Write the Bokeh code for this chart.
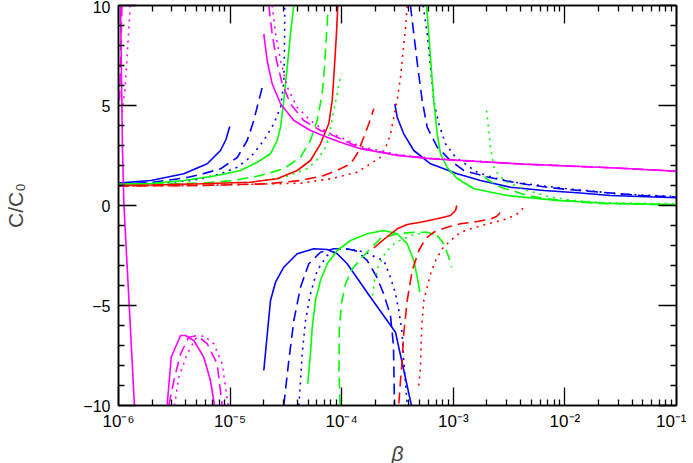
import numpy as np
from bokeh.plotting import figure
from bokeh.models import LogAxis, LinearAxis, FixedTicker, Range1d
from bokeh.embed import file_html
from bokeh.resources import INLINE

# ---- axis ticks -------------------------------------------------------
x_ticks = [1e-6, 1e-5, 1e-4, 1e-3, 1e-2, 1e-1]
x_tick_labels = ["10⁻⁶", "10⁻⁵", "10⁻⁴", "10⁻³", "10⁻²", "10⁻¹"]
x_minor = [m * 10.0 ** k for k in range(-6, -1) for m in range(2, 10)]
y_ticks = [-10, -5, 0, 5, 10]
y_tick_labels = ["−10", "−5", "0", "5", "10"]
y_minor = [v for v in range(-9, 10) if v % 5 != 0]

# ---- data: log10(beta) and C/C0 for every branch ----------------------
blue_solid_1_lb = [-6.0, -5.71, -5.415, -5.205, -5.086, -5.037, -5.003]
blue_solid_1_c = [1.12, 1.25, 1.585, 2.085, 2.75, 3.3, 3.95]
blue_solid_2_lb = [-4.698, -4.638, -4.593, -4.519, -4.399, -4.25, -4.13, -4.04, -3.951, -3.742, -3.518, -3.375]
blue_solid_2_c = [-8.25, -4.75, -3.835, -3.085, -2.415, -2.165, -2.2, -2.415, -2.915, -4.585, -6.335, -10.0]
blue_solid_3_lb = [-3.524, -3.503, -3.444, -3.354, -3.204, -2.965, -2.756, -2.487, -2.189, -1.89, -1.591, -1.0]
blue_solid_3_c = [5.085, 4.415, 3.585, 2.75, 2.085, 1.585, 1.25, 0.915, 0.75, 0.635, 0.5, 0.385]

blue_dashed_1_lb = [-6.0, -5.713, -5.384, -5.265, -5.086, -4.936, -4.847, -4.788, -4.743, -4.703]
blue_dashed_1_c = [1.075, 1.15, 1.4, 1.55, 1.835, 2.4, 3.25, 4.25, 5.25, 6.085]
blue_dashed_2_lb = [-4.519, -4.474, -4.429, -4.369, -4.295, -4.19, -4.071, -3.951, -3.861, -3.772, -3.688, -3.625, -3.563, -3.536, -3.527]
blue_dashed_2_c = [-10, -7.75, -5.75, -4.085, -2.915, -2.335, -2.165, -2.165, -2.285, -2.75, -3.55, -4.4, -5.5, -7.0, -10]
blue_dashed_3_lb = [-3.384, -3.354, -3.318, -3.279, -3.234, -3.144, -3.025, -2.906, -2.711, -2.547, -2.338, -2.159, -1.95, -1.681, -1.323, -1.0]
blue_dashed_3_c = [10, 8.585, 6.915, 5.25, 3.915, 2.915, 2.25, 1.75, 1.45, 1.25, 1.05, 0.915, 0.785, 0.665, 0.5, 0.425]

blue_dotted_1_lb = [-6.0, -5.624, -5.355, -5.265, -5.086, -4.936, -4.817, -4.698, -4.608, -4.548, -4.519, -4.513, -4.51]
blue_dotted_1_c = [1.05, 1.125, 1.25, 1.335, 1.585, 1.915, 2.415, 3.25, 4.085, 4.915, 6.1, 7.75, 10.0]
blue_dotted_2_lb = [-4.384, -4.369, -4.354, -4.324, -4.28, -4.22, -4.13, -4.011, -3.892, -3.787, -3.697, -3.623, -3.563, -3.518, -3.488, -3.458, -3.444, -3.428, -3.413]
blue_dotted_2_c = [-10, -8.75, -7.415, -5.75, -4.415, -3.25, -2.5, -2.165, -2.215, -2.335, -2.585, -2.75, -3.585, -4.415, -5.25, -6.415, -7.75, -8.915, -9.9]
blue_dotted_3_lb = [-3.27, -3.234, -3.204, -3.175, -3.13, -3.07, -2.98, -2.861, -2.786, -2.637, -2.458, -2.219, -1.979, -1.741, -1.591, -1.323, -1.0]
blue_dotted_3_c = [10, 8.585, 6.915, 5.25, 4.085, 3.085, 2.415, 1.95, 1.665, 1.385, 1.165, 1.0, 0.835, 0.715, 0.615, 0.525, 0.45]

green_solid_1_lb = [-6.0, -5.713, -5.415, -5.116, -4.907, -4.757, -4.638, -4.578, -4.548, -4.519, -4.488, -4.459, -4.429]
green_solid_1_c = [1.075, 1.1, 1.25, 1.5, 1.75, 2.165, 2.585, 3.25, 3.915, 5.25, 6.915, 8.585, 10]
green_solid_2_lb = [-4.304, -4.28, -4.264, -4.235, -4.19, -4.13, -4.04, -3.921, -3.772, -3.623, -3.503, -3.413, -3.354, -3.323, -3.3]
green_solid_2_c = [-8.915, -7.415, -6.085, -4.75, -3.75, -2.915, -2.25, -1.75, -1.415, -1.25, -1.415, -1.915, -2.75, -3.585, -4.335]
green_solid_3_lb = [-3.24, -3.22, -3.198, -3.175, -3.144, -3.115, -3.055, -2.965, -2.816, -2.517, -2.069, -1.621, -1.0]
green_solid_3_c = [10, 8.585, 6.915, 5.25, 3.585, 2.585, 1.9, 1.35, 0.835, 0.5, 0.25, 0.115, 0.035]

green_dashed_1_lb = [-6.0, -5.265, -4.967, -4.728, -4.519, -4.369, -4.28, -4.22, -4.175, -4.154, -4.136, -4.125]
green_dashed_1_c = [1.05, 1.115, 1.25, 1.5, 1.835, 2.415, 3.25, 4.25, 5.585, 6.915, 8.585, 9.585]
green_dashed_2_lb = [-4.015, -4.024, -4.022, -4.002, -3.966, -3.903, -3.814, -3.733, -3.652, -3.503, -3.354, -3.234, -3.144, -3.085, -3.04, -3.016]
green_dashed_2_c = [-10, -8.25, -6.25, -4.9, -3.915, -3.15, -2.585, -2.1, -1.65, -1.415, -1.335, -1.335, -1.5, -1.915, -2.585, -3.085]
green_dashed_3_lb = [-2.72, -2.694, -2.622, -2.547, -2.458, -2.368, -2.189, -2.01, -1.831, -1.681, -1.323, -1.0]
green_dashed_3_c = [1.45, 1.3, 1.05, 0.85, 0.725, 0.55, 0.35, 0.25, 0.165, 0.1, 0.06, 0.035]

green_dotted_1_lb = [-6.0, -5.265, -4.817, -4.519, -4.309, -4.208, -4.136, -4.1, -4.071, -4.04, -4.017, -3.996]
green_dotted_1_c = [1.025, 1.085, 1.165, 1.415, 1.835, 2.35, 3.0, 3.85, 4.75, 5.585, 6.25, 6.585]
green_dotted_2_lb = [-3.724, -3.706, -3.67, -3.608, -3.518, -3.384, -3.249, -3.159, -3.106, -3.07]
green_dotted_2_c = [-4.5, -3.75, -3.0, -2.35, -1.85, -1.5, -1.35, -1.45, -1.75, -2.1]
green_dotted_3_lb = [-2.703, -2.682, -2.667, -2.637, -2.592, -2.517, -2.338, -2.129, -1.92, -1.621, -1.0]
green_dotted_3_c = [4.75, 3.75, 2.915, 1.915, 1.5, 1.165, 0.75, 0.415, 0.25, 0.135, 0.085]

red_solid_1_lb = [-6.0, -5.713, -5.265, -4.817, -4.578, -4.399, -4.28, -4.19, -4.116, -4.085, -4.065, -4.047, -4.035]
red_solid_1_c = [1.0, 1.025, 1.085, 1.165, 1.335, 1.75, 2.25, 3.085, 4.085, 5.25, 6.915, 8.585, 10]
red_solid_2_lb = [-3.712, -3.652, -3.578, -3.503, -3.413, -3.294, -3.144, -3.025, -2.98, -2.969]
red_solid_2_c = [-2.125, -1.835, -1.5, -1.165, -0.95, -0.835, -0.665, -0.5, -0.25, 0.0]

red_dashed_1_lb = [-6.0, -5.265, -4.668, -4.369, -4.16, -4.011, -3.921, -3.861, -3.802, -3.757, -3.712]
red_dashed_1_c = [0.975, 1.0, 1.085, 1.25, 1.5, 1.835, 2.085, 2.585, 3.415, 4.085, 4.835]
red_dashed_2_lb = [-3.488, -3.473, -3.458, -3.444, -3.413, -3.368, -3.309, -3.249, -3.175, -3.055, -2.935, -2.786, -2.667, -2.613, -2.586, -2.577]
red_dashed_2_c = [-9.9, -8.75, -7.75, -6.415, -4.75, -3.25, -2.25, -1.665, -1.335, -1.085, -0.915, -0.8, -0.675, -0.55, -0.4, -0.25]

red_dotted_1_lb = [-6.0, -5.265, -4.369, -4.1, -3.981, -3.861, -3.742, -3.652, -3.592, -3.563, -3.533, -3.503, -3.473, -3.449, -3.428, -3.413]
red_dotted_1_c = [0.975, 1.0, 1.115, 1.335, 1.5, 1.665, 2.085, 2.415, 3.085, 3.585, 4.415, 5.25, 6.415, 7.75, 8.915, 10]
red_dotted_2_lb = [-3.309, -3.294, -3.288, -3.279, -3.264, -3.234, -3.204, -3.159, -3.099, -3.025, -2.935, -2.846, -2.727, -2.637, -2.517, -2.427, -2.368]
red_dotted_2_c = [-9.0, -8.085, -6.75, -5.75, -4.75, -4.085, -3.415, -2.75, -2.165, -1.75, -1.335, -1.165, -0.975, -0.835, -0.665, -0.415, -0.1]

magenta_solid_0_lb = [-5.982, -5.964, -5.951, -5.857]
magenta_solid_0_c = [10, 2.75, 0, -10]
magenta_solid_1_lb = [-5.564, -5.528, -5.444, -5.4, -5.325, -5.236, -5.176, -5.14]
magenta_solid_1_c = [-10, -7.585, -6.5, -6.5, -6.75, -7.585, -8.75, -10]
magenta_solid_2_lb = [-4.698, -4.668, -4.623, -4.548, -4.429, -4.28, -4.13, -4.011, -3.832, -3.503, -3.204, -2.935, -2.398, -1.591, -1.0]
magenta_solid_2_c = [8.585, 7.25, 6.085, 5.085, 4.25, 3.75, 3.415, 3.165, 2.835, 2.5, 2.335, 2.25, 2.075, 1.885, 1.715]

magenta_dashed_0_lb = [-5.969, -5.979, -5.991]
magenta_dashed_0_c = [10, 7.75, 5.25]
magenta_dashed_1_lb = [-5.549, -5.504, -5.444, -5.37, -5.295, -5.205, -5.116, -5.071]
magenta_dashed_1_c = [-10, -8.75, -7.415, -6.585, -6.5, -6.915, -7.915, -10]
magenta_dashed_2_lb = [-4.653, -4.623, -4.584, -4.533, -4.459, -4.34, -4.19, -4.04, -3.832, -3.503, -3.204, -2.935, -2.398, -1.591, -1.0]
magenta_dashed_2_c = [10, 8.585, 7.25, 6.085, 5.085, 4.25, 3.75, 3.415, 2.875, 2.525, 2.35, 2.25, 2.075, 1.885, 1.715]

magenta_dotted_0_lb = [-5.895, -5.91, -5.926, -5.94, -5.955, -5.967]
magenta_dotted_0_c = [10, 8.6, 7.25, 5.9, 5.25, 4.65]
magenta_dotted_1_lb = [-5.498, -5.46, -5.384, -5.31, -5.236, -5.146, -5.071, -5.017]
magenta_dotted_1_c = [-10, -8.585, -7.415, -6.665, -6.5, -6.915, -7.915, -10]
magenta_dotted_2_lb = [-4.623, -4.593, -4.548, -4.488, -4.399, -4.28, -4.13, -4.011, -3.832, -3.503, -3.204, -2.935, -2.398, -1.591, -1.0]
magenta_dotted_2_c = [10, 8.6, 7.25, 5.915, 4.915, 4.25, 3.665, 3.415, 2.95, 2.55, 2.365, 2.265, 2.085, 1.89, 1.72]

BLUE, GREEN, RED, MAGENTA = "#0000ff", "#00ff00", "#ff0000", "#ff00ff"
DASHES = {"solid": "solid", "dashed": "11 6", "dotted": "2 5"}

series = [
    (blue_solid_1_lb, blue_solid_1_c, BLUE, "solid"),
    (blue_solid_2_lb, blue_solid_2_c, BLUE, "solid"),
    (blue_solid_3_lb, blue_solid_3_c, BLUE, "solid"),
    (blue_dashed_1_lb, blue_dashed_1_c, BLUE, "dashed"),
    (blue_dashed_2_lb, blue_dashed_2_c, BLUE, "dashed"),
    (blue_dashed_3_lb, blue_dashed_3_c, BLUE, "dashed"),
    (blue_dotted_1_lb, blue_dotted_1_c, BLUE, "dotted"),
    (blue_dotted_2_lb, blue_dotted_2_c, BLUE, "dotted"),
    (blue_dotted_3_lb, blue_dotted_3_c, BLUE, "dotted"),
    (green_solid_1_lb, green_solid_1_c, GREEN, "solid"),
    (green_solid_2_lb, green_solid_2_c, GREEN, "solid"),
    (green_solid_3_lb, green_solid_3_c, GREEN, "solid"),
    (green_dashed_1_lb, green_dashed_1_c, GREEN, "dashed"),
    (green_dashed_2_lb, green_dashed_2_c, GREEN, "dashed"),
    (green_dashed_3_lb, green_dashed_3_c, GREEN, "dashed"),
    (green_dotted_1_lb, green_dotted_1_c, GREEN, "dotted"),
    (green_dotted_2_lb, green_dotted_2_c, GREEN, "dotted"),
    (green_dotted_3_lb, green_dotted_3_c, GREEN, "dotted"),
    (red_solid_1_lb, red_solid_1_c, RED, "solid"),
    (red_solid_2_lb, red_solid_2_c, RED, "solid"),
    (red_dashed_1_lb, red_dashed_1_c, RED, "dashed"),
    (red_dashed_2_lb, red_dashed_2_c, RED, "dashed"),
    (red_dotted_1_lb, red_dotted_1_c, RED, "dotted"),
    (red_dotted_2_lb, red_dotted_2_c, RED, "dotted"),
    (magenta_solid_0_lb, magenta_solid_0_c, MAGENTA, "solid"),
    (magenta_solid_1_lb, magenta_solid_1_c, MAGENTA, "solid"),
    (magenta_solid_2_lb, magenta_solid_2_c, MAGENTA, "solid"),
    (magenta_dashed_0_lb, magenta_dashed_0_c, MAGENTA, "dashed"),
    (magenta_dashed_1_lb, magenta_dashed_1_c, MAGENTA, "dashed"),
    (magenta_dashed_2_lb, magenta_dashed_2_c, MAGENTA, "dashed"),
    (magenta_dotted_0_lb, magenta_dotted_0_c, MAGENTA, "dotted"),
    (magenta_dotted_1_lb, magenta_dotted_1_c, MAGENTA, "dotted"),
    (magenta_dotted_2_lb, magenta_dotted_2_c, MAGENTA, "dotted"),
]

FONT = "Liberation Sans"

p = figure(frame_width=558, frame_height=400, x_axis_type="log",
           x_range=Range1d(1e-6, 1e-1), y_range=Range1d(-10, 10),
           output_backend="svg", toolbar_location=None,
           min_border_left=118, min_border_right=10, min_border_top=5, min_border_bottom=0)
p.grid.visible = False
p.outline_line_color = "black"
p.outline_line_width = 1.5
p.background_fill_color = "white"
p.border_fill_color = "white"

for lb, c, color, style in series:
    p.line(x=10.0 ** np.array(lb), y=c, line_color=color, line_width=1.6,
           line_dash=DASHES[style])

def style_axis(ax):
    ax.major_tick_in = 18
    ax.major_tick_out = 0
    ax.minor_tick_in = 6
    ax.minor_tick_out = 0
    ax.axis_line_color = "black"
    ax.axis_line_width = 1.5
    ax.major_tick_line_width = 1.3
    ax.minor_tick_line_width = 1.3

xa = p.xaxis[0]
xa.ticker = FixedTicker(ticks=x_ticks, minor_ticks=x_minor)
xa.major_label_overrides = {t: l for t, l in zip(x_ticks, x_tick_labels)}
xa.major_label_text_font = FONT
xa.major_label_text_font_size = "17px"
xa.major_label_text_color = "black"
xa.major_label_standoff = 6
xa.axis_label = "β"
xa.axis_label_text_font = FONT
xa.axis_label_text_font_style = "italic"
xa.axis_label_text_font_size = "21px"
xa.axis_label_standoff = 8
style_axis(xa)

ya = p.yaxis[0]
ya.ticker = FixedTicker(ticks=y_ticks, minor_ticks=y_minor)
ya.major_label_overrides = {t: l for t, l in zip(y_ticks, y_tick_labels)}
ya.major_label_text_font = FONT
ya.major_label_text_font_size = "16px"
ya.major_label_text_color = "black"
ya.major_label_standoff = 8
ya.axis_label = "C/C₀"
ya.axis_label_text_font = FONT
ya.axis_label_text_font_style = "normal"
ya.axis_label_text_font_size = "21px"
ya.axis_label_standoff = 53
style_axis(ya)

top = LogAxis(ticker=FixedTicker(ticks=x_ticks, minor_ticks=x_minor))
top.major_label_overrides = {t: "" for t in x_ticks}
top.major_label_standoff = 0
top.major_label_text_font_size = "1px"
style_axis(top)
p.add_layout(top, "above")

right = LinearAxis(ticker=FixedTicker(ticks=y_ticks, minor_ticks=y_minor))
right.major_label_overrides = {t: "" for t in y_ticks}
right.major_label_standoff = 0
right.major_label_text_font_size = "1px"
style_axis(right)
p.add_layout(right, "right")

open("out.html", "w").write(file_html(p, INLINE))
